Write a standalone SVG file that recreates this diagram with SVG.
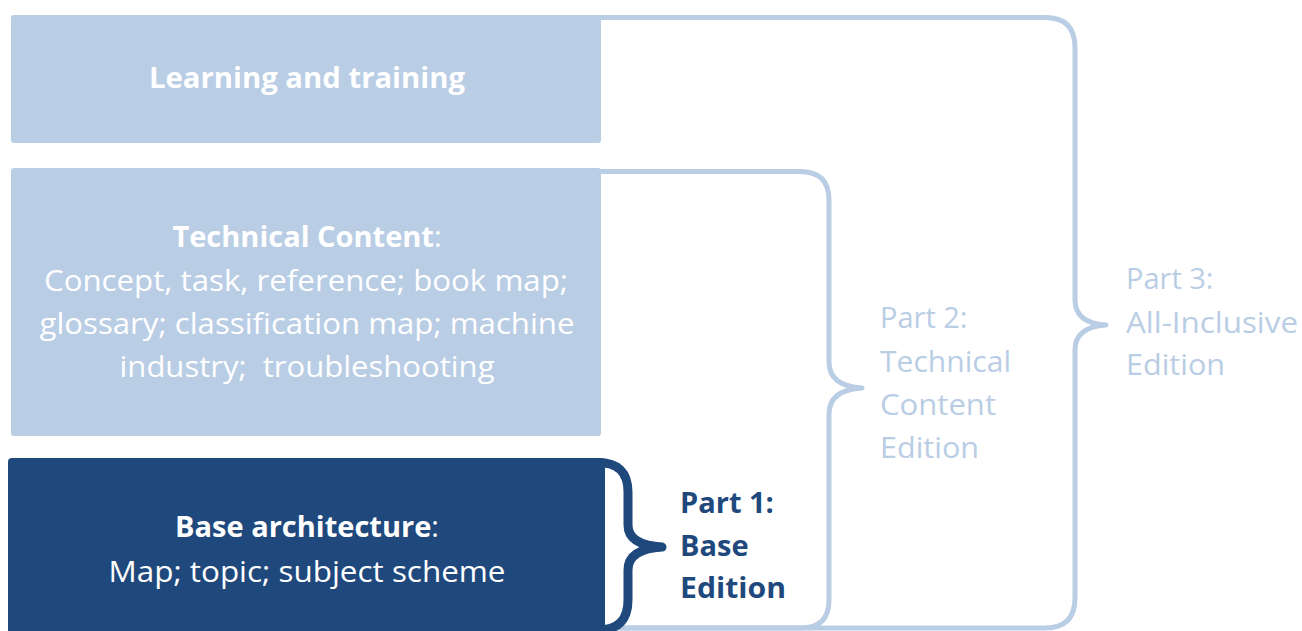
<svg xmlns="http://www.w3.org/2000/svg" width="1302" height="631" viewBox="0 0 1302 631">
<style>
.light{fill:#B9CDE5}
.br{fill:none;stroke:#B9CDE5;stroke-width:5;stroke-linejoin:round}
.t{font-family:"Open Sans","Noto Sans",sans-serif;font-size:29px;text-anchor:middle;fill:#FFFFFF}
.b{font-weight:bold}
.lbl{font-family:"Open Sans","Noto Sans",sans-serif;font-size:29px;fill:#B9CDE5}
.dk{fill:#1F497D;font-weight:bold}
</style>
<rect width="1302" height="631" fill="#FFFFFF"/>
<g id="connectors">
<path class="br" d="M598 17.5 L1045 17.5 Q1075 17.5 1075 47.5 L1075 300 Q1075 323 1106 325 Q1075 327 1075 350 L1075 598 Q1075 628 1045 628 L600 628"/>
<path class="br" d="M598 171.5 L800 171.5 Q829 171.5 829 200 L829 362 Q829 386 862 388 Q829 390 829 414 L829 600 Q829 628 801 628 L600 628"/>
</g>
<g id="learning">
<rect class="light" x="11" y="15" width="590" height="128" rx="3"/>
<text class="t b" x="307" y="88" textLength="316" lengthAdjust="spacingAndGlyphs">Learning and training</text>
</g>
<g id="technical">
<rect class="light" x="11" y="168" width="590" height="268" rx="3"/>
<text class="t" x="307" y="247" fill="#F5F8FC"><tspan class="b" fill="#FFFFFF">Technical Content</tspan>:</text>
<text class="t" x="306" y="291" textLength="524" lengthAdjust="spacingAndGlyphs" fill="#F5F8FC">Concept, task, reference; book map;</text>
<text class="t" x="307" y="334" textLength="535" lengthAdjust="spacingAndGlyphs" fill="#F5F8FC">glossary; classification map; machine</text>
<text class="t" x="307" y="377" textLength="375" lengthAdjust="spacingAndGlyphs" fill="#F5F8FC">industry;&#160; troubleshooting</text>
</g>
<g id="base">
<rect x="8" y="458" width="597" height="185" rx="4" fill="#1F497D"/>
<path d="M598 462.5 Q628 462.5 628 492 L628 525 Q628 545 662 547 Q628 549 628 570 L628 600 Q628 630 598 630" fill="none" stroke="#1F497D" stroke-width="9" stroke-linejoin="round"/>
<text class="t" x="307" y="537"><tspan class="b">Base architecture</tspan>:</text>
<text class="t" x="307" y="582" textLength="397" lengthAdjust="spacingAndGlyphs">Map; topic; subject scheme</text>
</g>
<g id="part1">
<text class="lbl dk" x="680" y="513">Part 1:</text>
<text class="lbl dk" x="680" y="556">Base</text>
<text class="lbl dk" x="680" y="598" textLength="106" lengthAdjust="spacingAndGlyphs">Edition</text>
</g>
<g id="part2">
<text class="lbl" x="880" y="328">Part 2:</text>
<text class="lbl" x="880" y="372" textLength="131" lengthAdjust="spacingAndGlyphs">Technical</text>
<text class="lbl" x="880" y="415" textLength="116" lengthAdjust="spacingAndGlyphs">Content</text>
<text class="lbl" x="880" y="458" textLength="99" lengthAdjust="spacingAndGlyphs">Edition</text>
</g>
<g id="part3">
<text class="lbl" x="1126" y="289">Part 3:</text>
<text class="lbl" x="1126" y="333" textLength="172" lengthAdjust="spacingAndGlyphs">All-Inclusive</text>
<text class="lbl" x="1126" y="375" textLength="99" lengthAdjust="spacingAndGlyphs">Edition</text>
</g>
</svg>
